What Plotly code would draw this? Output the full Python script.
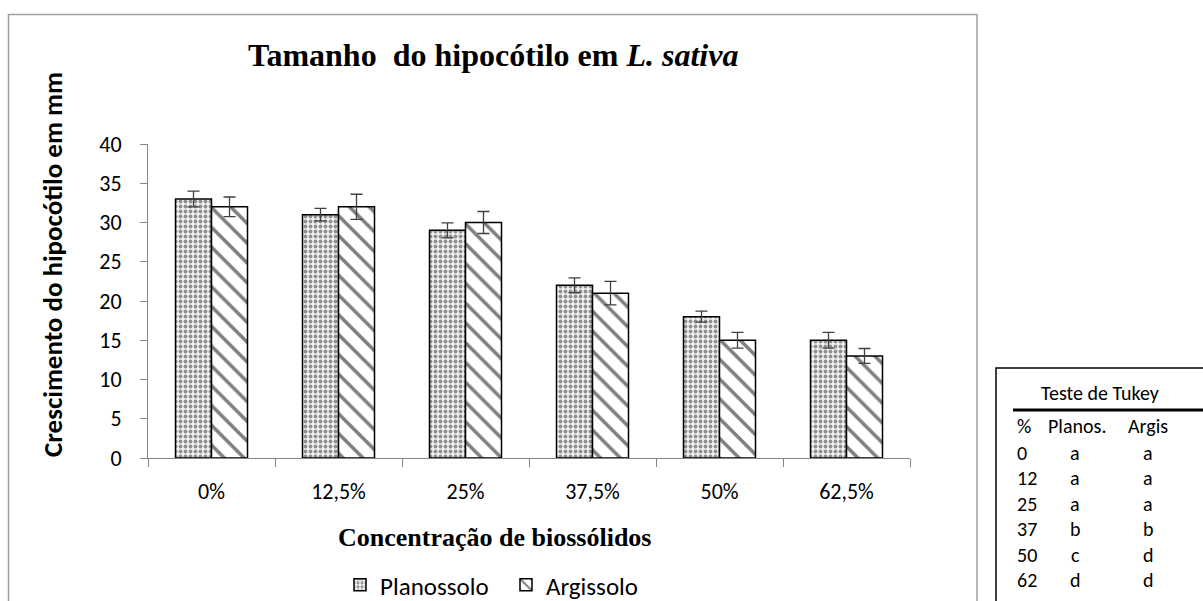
import plotly.graph_objects as go

# ---- data ----
categories = ["0%", "12,5%", "25%", "37,5%", "50%", "62,5%"]
planossolo = [33, 31, 29, 22, 18, 15]
argissolo = [32, 32, 30, 21, 15, 13]
err_planossolo = [1.0, 0.8, 0.95, 0.95, 0.7, 1.0]
err_argissolo = [1.25, 1.6, 1.4, 1.5, 1.0, 0.95]
y_ticks = [0, 5, 10, 15, 20, 25, 30, 35, 40]

tukey_title = "Teste de Tukey"
tukey_header = ["%", "Planos.", "Argis"]
tukey_pct = ["0", "12", "25", "37", "50", "62"]
tukey_plan = ["a", "a", "a", "b", "c", "d"]
tukey_arg = ["a", "a", "a", "b", "d", "d"]

# ---- layout geometry (pixels) ----
W, H = 1203, 601
PL, PR, PT, PB = 148, 910, 144, 458


def px(x):
    return (x - PL) / (PR - PL)


def py(y):
    return (PB - y) / (PB - PT)


SANS = "Calibri, Carlito, Lato, sans-serif"
SERIF = "Times New Roman, Liberation Serif, serif"
AXIS_GRAY = "#868686"

fig = go.Figure()
fig.add_trace(go.Bar(
    name="Planossolo", x=categories, y=planossolo,
    error_y=dict(type="data", array=err_planossolo, color="#404040", thickness=1.3, width=6),
    marker=dict(color="white", line=dict(color="black", width=1.5),
                pattern=dict(shape=".", fgcolor="#303030", bgcolor="#f0f0f0", size=5, solidity=0.45)),
))
fig.add_trace(go.Bar(
    name="Argissolo", x=categories, y=argissolo,
    error_y=dict(type="data", array=err_argissolo, color="#404040", thickness=1.3, width=6),
    marker=dict(color="white", line=dict(color="black", width=1.5),
                pattern=dict(shape="\\", fgcolor="black", bgcolor="white", size=14, solidity=0.25)),
))

annotations = [
    dict(text="<b>Tamanho&nbsp;&nbsp;do hipocótilo em <i>L. sativa</i></b>",
         x=px(493), y=py(55), xref="paper", yref="paper", showarrow=False,
         xanchor="center", yanchor="middle", font=dict(family=SERIF, size=32, color="black")),
    dict(text="<b>Crescimento do hipocótilo em mm</b>",
         x=px(52), y=py(265), xref="paper", yref="paper", showarrow=False, textangle=-90,
         xanchor="center", yanchor="middle", font=dict(family=SANS, size=27, color="black")),
    dict(text="<b>Concentração de biossólidos</b>",
         x=px(494), y=py(537), xref="paper", yref="paper", showarrow=False,
         xanchor="center", yanchor="middle", font=dict(family=SERIF, size=26, color="black")),
]

tfont = dict(family=SANS, size=20, color="black")
annotations.append(dict(text=tukey_title, x=px(1100), y=py(393), xref="paper", yref="paper",
                        showarrow=False, xanchor="center", yanchor="middle", font=tfont))
header_x = [(1015, "left"), (1077, "center"), (1148, "center")]
for (hx, anc), txt in zip(header_x, tukey_header):
    annotations.append(dict(text=txt, x=px(hx), y=py(426), xref="paper", yref="paper",
                            showarrow=False, xanchor=anc, yanchor="middle", font=tfont))
for i, (p, a, b) in enumerate(zip(tukey_pct, tukey_plan, tukey_arg)):
    ry = 453 + i * 25.4
    annotations.append(dict(text=p, x=px(1015), y=py(ry), xref="paper", yref="paper",
                            showarrow=False, xanchor="left", yanchor="middle", font=tfont))
    annotations.append(dict(text=a, x=px(1075), y=py(ry), xref="paper", yref="paper",
                            showarrow=False, xanchor="center", yanchor="middle", font=tfont))
    annotations.append(dict(text=b, x=px(1148), y=py(ry), xref="paper", yref="paper",
                            showarrow=False, xanchor="center", yanchor="middle", font=tfont))

shapes = [
    # chart outer border
    dict(type="rect", xref="paper", yref="paper", x0=px(8.5), x1=px(977), y0=py(640), y1=py(14.5),
         line=dict(color="#a0a0a0", width=1.5), fillcolor="rgba(0,0,0,0)", layer="below"),
    # table box
    dict(type="rect", xref="paper", yref="paper", x0=px(996), x1=px(1240), y0=py(640), y1=py(368),
         line=dict(color="black", width=1.5), fillcolor="white"),
    # table title underline
    dict(type="line", xref="paper", yref="paper", x0=px(1013), x1=px(1240), y0=py(410), y1=py(410),
         line=dict(color="black", width=3)),
]

fig.update_layout(
    width=W, height=H, autosize=False,
    margin=dict(l=PL, r=W - PR, t=PT, b=H - PB, pad=0, autoexpand=False),
    paper_bgcolor="white", plot_bgcolor="white",
    barmode="group", bargap=0.433, bargroupgap=0,
    showlegend=True,
    legend=dict(orientation="h", x=px(340), y=py(585), xanchor="left", yanchor="middle",
                font=dict(family=SANS, size=25, color="black"), itemwidth=30,
                entrywidth=121, entrywidthmode="pixels",
                bgcolor="rgba(0,0,0,0)"),
    annotations=annotations, shapes=shapes,
    xaxis=dict(type="category", showline=True, linecolor=AXIS_GRAY, linewidth=1,
               ticks="outside", tickson="boundaries", ticklen=8, tickcolor=AXIS_GRAY,
               tickfont=dict(family=SANS, size=22, color="black"), ticklabelstandoff=14,
               showgrid=False, zeroline=False),
    yaxis=dict(range=[0, 40], tickvals=y_ticks, showline=True, linecolor=AXIS_GRAY, linewidth=1,
               ticks="outside", ticklen=7, tickcolor=AXIS_GRAY,
               tickfont=dict(family=SANS, size=22, color="black"), ticklabelstandoff=14,
               showgrid=False, zeroline=False),
)

fig.write_html(
    "out.html",
    config={"displayModeBar": False},
    post_script="document.body.style.margin='0';document.body.style.overflow='hidden';",
)
